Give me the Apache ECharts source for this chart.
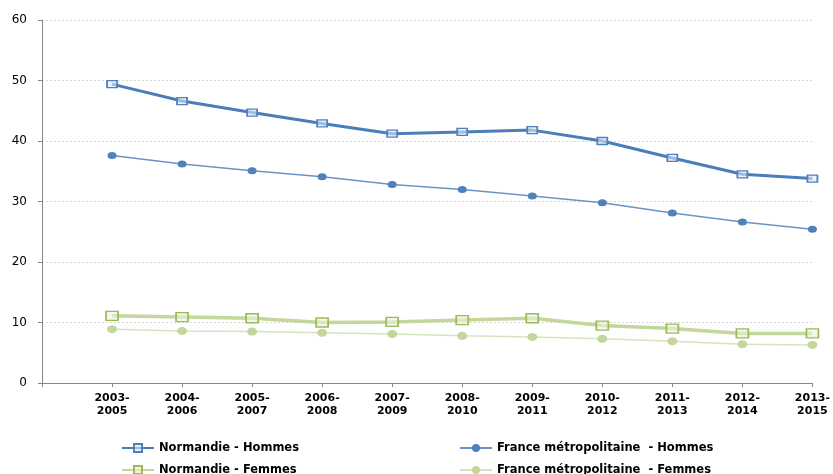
<!DOCTYPE html>
<html>
<head>
<meta charset="utf-8">
<script src="https://cdn.jsdelivr.net/npm/echarts@6/dist/echarts.min.js"></script>
<style>
  html, body { margin: 0; padding: 0; background: #fff; }
  #chart { width: 833px; height: 474px; }
</style>
</head>
<body>
<div id="chart"></div>
<script>
// Three-year periods (the leading blank slot leaves a gap after the y axis)
const periods = ['', '2003-\n2005', '2004-\n2006', '2005-\n2007', '2006-\n2008', '2007-\n2009',
  '2008-\n2010', '2009-\n2011', '2010-\n2012', '2011-\n2013', '2012-\n2014', '2013-\n2015'];

const normandieHommes = [null, 49.4, 46.6, 44.7, 42.9, 41.2, 41.5, 41.8, 40.0, 37.2, 34.5, 33.8];
const franceHommes    = [null, 37.6, 36.2, 35.1, 34.1, 32.8, 32.0, 30.9, 29.8, 28.1, 26.6, 25.4];
const normandieFemmes = [null, 11.1, 10.9, 10.7, 10.0, 10.1, 10.4, 10.7, 9.5, 9.0, 8.2, 8.2];
const franceFemmes    = [null, 8.9, 8.6, 8.5, 8.3, 8.1, 7.8, 7.6, 7.3, 6.9, 6.4, 6.3];

const yTicks = { min: 0, max: 60, step: 10 };

const names = {
  nh: 'Normandie - Hommes',
  fh: 'France métropolitaine  - Hommes',
  nf: 'Normandie - Femmes',
  ff: 'France métropolitaine  - Femmes'
};

const font = 'DejaVu Sans';
const chart = echarts.init(document.getElementById('chart'), null, { renderer: 'canvas' });

const legendText = { fontFamily: font, fontSize: 11.5, fontWeight: 'bold', color: '#000' };

// one legend block per entry, laid out as a 2x2 grid under the plot
function legendEntry(name, left, top) {
  return {
    data: [name], left: left, top: top, padding: 0,
    itemWidth: 32, itemHeight: 10, textStyle: legendText
  };
}

chart.setOption({
  animation: false,
  backgroundColor: '#fff',
  grid: { left: 42, right: 17, top: 20, bottom: 91, containLabel: false },
  legend: [
    legendEntry(names.nh, 121, 442),
    legendEntry(names.nf, 121, 464),
    legendEntry(names.fh, 459, 442),
    legendEntry(names.ff, 459, 464)
  ],
  xAxis: {
    type: 'category',
    data: periods,
    boundaryGap: false,
    axisLine: { lineStyle: { color: '#868686', width: 1 } },
    axisTick: { show: true, length: 4, alignWithLabel: true, interval: 0, lineStyle: { color: '#868686' } },
    axisLabel: {
      interval: 0, margin: 9, lineHeight: 13,
      fontFamily: font, fontSize: 11, fontWeight: 'bold', color: '#000'
    },
    splitLine: { show: false }
  },
  yAxis: {
    type: 'value',
    min: yTicks.min, max: yTicks.max, interval: yTicks.step,
    axisLine: { show: true, lineStyle: { color: '#868686', width: 1 } },
    axisTick: { show: true, length: 4, lineStyle: { color: '#868686' } },
    axisLabel: { margin: 15, fontFamily: font, fontSize: 12, color: '#000' },
    splitLine: { show: true, lineStyle: { color: '#d9d9d9', type: [2, 2], width: 1 } }
  },
  series: [
    {
      name: names.nh, type: 'line', data: normandieHommes, z: 4,
      symbol: 'rect', symbolSize: [10, 7],
      lineStyle: { color: '#4a7ebb', width: 3 },
      itemStyle: { color: 'rgba(220,230,242,0.6)', borderColor: '#4f81bd', borderWidth: 1.5 }
    },
    {
      name: names.fh, type: 'line', data: franceHommes, z: 3,
      symbol: 'circle', symbolSize: [9, 7],
      lineStyle: { color: '#6a93c8', width: 1.5 },
      itemStyle: { color: '#4f81bd', borderWidth: 0 }
    },
    {
      name: names.nf, type: 'line', data: normandieFemmes, z: 2,
      symbol: 'rect', symbolSize: [12, 9],
      lineStyle: { color: '#c3d69b', width: 3.5 },
      itemStyle: { color: 'rgba(235,241,222,0.6)', borderColor: '#9bbb59', borderWidth: 1.5 }
    },
    {
      name: names.ff, type: 'line', data: franceFemmes, z: 1,
      symbol: 'circle', symbolSize: [10, 8],
      lineStyle: { color: '#d7e4bd', width: 1.5 },
      itemStyle: { color: '#c3d69b', borderWidth: 0 }
    }
  ]
});
</script>
</body>
</html>
